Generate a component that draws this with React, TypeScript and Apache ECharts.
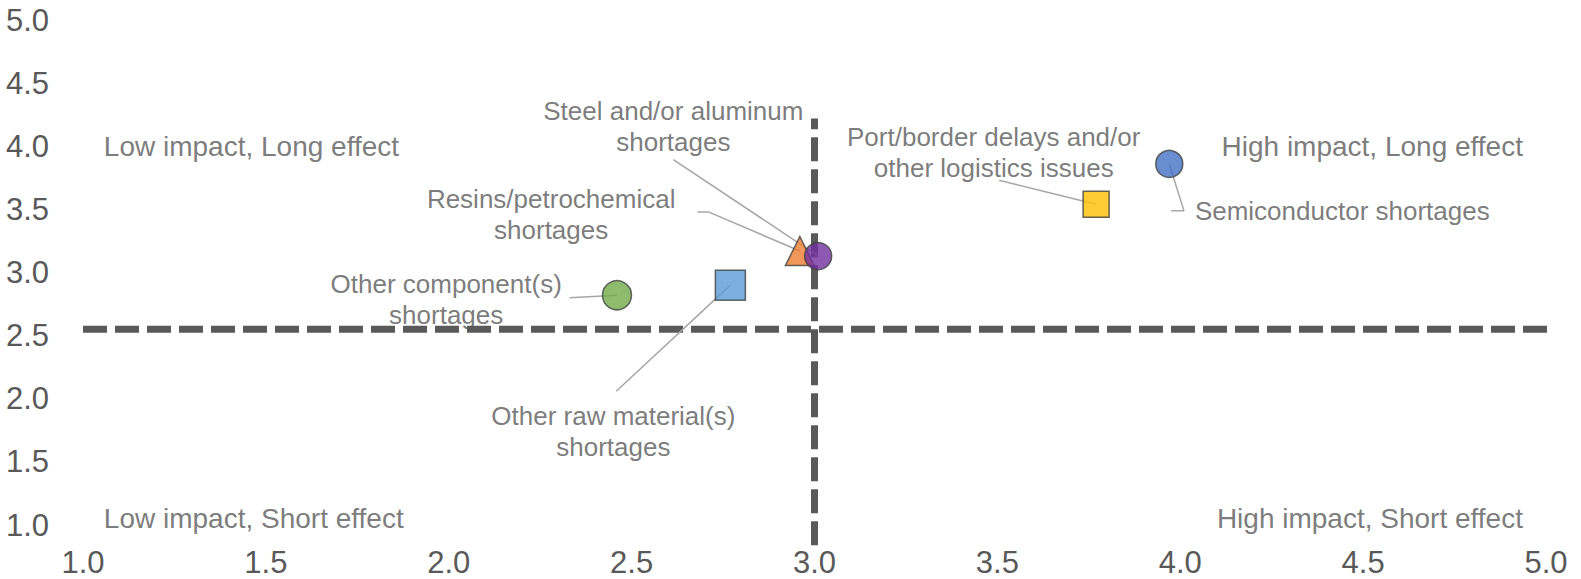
import React, { useEffect, useRef } from "react";
import * as echarts from "echarts";

// ---- data ----
const categories = [
  "Semiconductor shortages",
  "Port/border delays and/or other logistics issues",
  "Resins/petrochemical shortages",
  "Steel and/or aluminum shortages",
  "Other raw material(s) shortages",
  "Other component(s) shortages",
];
const impactValues = [3.97, 3.77, 2.96, 3.01, 2.77, 2.46];
const effectValues = [3.86, 3.54, 3.17, 3.13, 2.9, 2.82];

const thresholdImpact = 3.0;
const thresholdEffect = 2.55;

const axisMin = 1;
const axisMax = 5;
const axisStep = 0.5;

// ---- styling / annotation layout (value space) ----
const markerStyles = [
  { symbol: "circle", size: 27, color: "#4472C4" },
  { symbol: "rect", size: 26, color: "#FFC000" },
  { symbol: "triangle", size: 29, color: "#ED7D31" },
  { symbol: "circle", size: 27, color: "#7030A0" },
  { symbol: "rect", size: 30, color: "#5B9BD5" },
  { symbol: "circle", size: 29, color: "#70AD47" },
];

const labelTexts = [
  "Semiconductor shortages",
  "Port/border delays and/or\nother logistics issues",
  "Resins/petrochemical\nshortages",
  "Steel and/or aluminum\nshortages",
  "Other raw material(s)\nshortages",
  "Other component(s)\nshortages",
];
const labelAnchors = [
  { at: [4.04, 3.49], align: "left" },
  { at: [3.49, 3.95], align: "center" },
  { at: [2.28, 3.46], align: "center" },
  { at: [2.614, 4.16], align: "center" },
  { at: [2.45, 1.74], align: "center" },
  { at: [1.993, 2.79], align: "center" },
];
const leaderStarts = [
  [[3.975, 3.49], [4.01, 3.49]],
  [[3.505, 3.73]],
  [[2.68, 3.48], [2.71, 3.48]],
  [[2.614, 3.894]],
  [[2.458, 2.06]],
  [[2.33, 2.80]],
];

const quadrantTexts = [
  "Low impact, Long effect",
  "High impact, Long effect",
  "Low impact, Short effect",
  "High impact, Short effect",
];
const quadrantAnchors = [
  { at: [1.057, 4.0], align: "left" },
  { at: [4.937, 4.0], align: "right" },
  { at: [1.057, 1.05], align: "left" },
  { at: [4.937, 1.05], align: "right" },
];

const vLineSpan = [0.84, 4.22];
const hLineSpan = [1.0, 5.07];

const FONT = "'Liberation Sans', Arial, Helvetica, sans-serif";
const TEXT = "#595959";

export default function App() {
  const ref = useRef<HTMLDivElement>(null);
  useEffect(() => {
    document.body.style.margin = "0";
    if (!ref.current) return;
    const chart = echarts.init(ref.current, null, { renderer: "svg" });

    const leaderSeries = categories.map((name, i) => ({
      type: "line",
      name: "leader-" + name,
      data: [...leaderStarts[i], [impactValues[i], effectValues[i]]],
      symbol: "none",
      silent: true,
      z: 3,
      lineStyle: { color: "#A6A6A6", width: 1.5 },
    }));

    const option = {
      animation: false,
      textStyle: { fontFamily: FONT },
      grid: { left: 83, right: 35, top: 20, bottom: 54, containLabel: false },
      xAxis: {
        type: "value",
        min: axisMin,
        max: axisMax,
        interval: axisStep,
        axisLine: { show: false },
        axisTick: { show: false },
        splitLine: { show: false },
        axisLabel: {
          color: TEXT,
          fontSize: 31,
          fontFamily: FONT,
          margin: 22,
          formatter: (v: number) => v.toFixed(1),
        },
      },
      yAxis: {
        type: "value",
        min: axisMin,
        max: axisMax,
        interval: axisStep,
        axisLine: { show: false },
        axisTick: { show: false },
        splitLine: { show: false },
        axisLabel: {
          color: TEXT,
          fontSize: 31,
          fontFamily: FONT,
          margin: 34,
          formatter: (v: number) => v.toFixed(1),
        },
      },
      series: [
        {
          type: "line",
          name: "threshold-impact",
          data: [
            [thresholdImpact, vLineSpan[0]],
            [thresholdImpact, vLineSpan[1]],
          ],
          symbol: "none",
          silent: true,
          clip: false,
          z: 1,
          lineStyle: { color: "#595959", width: 7, type: [24, 8] },
        },
        {
          type: "line",
          name: "threshold-effect",
          data: [
            [hLineSpan[0], thresholdEffect],
            [hLineSpan[1], thresholdEffect],
          ],
          symbol: "none",
          silent: true,
          clip: false,
          z: 1,
          lineStyle: { color: "#595959", width: 7, type: [24, 8] },
        },
        ...leaderSeries,
        {
          type: "scatter",
          name: "points",
          z: 5,
          data: categories.map((name, i) => ({
            name,
            value: [impactValues[i], effectValues[i]],
            symbol: markerStyles[i].symbol,
            symbolSize: markerStyles[i].size,
            itemStyle: {
              color: markerStyles[i].color,
              borderColor: "#404040",
              borderWidth: 1.5,
            },
          })),
        },
        {
          type: "scatter",
          name: "labels",
          z: 6,
          silent: true,
          symbol: "circle",
          symbolSize: 1,
          itemStyle: { color: "rgba(0,0,0,0)" },
          data: [
            ...labelTexts.map((t, i) => ({
              name: t,
              value: labelAnchors[i].at,
              label: {
                show: true,
                position: "inside",
                formatter: t,
                align: labelAnchors[i].align,
                verticalAlign: "middle",
                fontSize: 26,
                lineHeight: 31,
                color: TEXT,
                fontFamily: FONT,
              },
            })),
            ...quadrantTexts.map((t, i) => ({
              name: t,
              value: quadrantAnchors[i].at,
              label: {
                show: true,
                position: "inside",
                formatter: t,
                align: quadrantAnchors[i].align,
                verticalAlign: "middle",
                fontSize: 28,
                color: TEXT,
                fontFamily: FONT,
              },
            })),
          ],
        },
      ],
    };
    chart.setOption(option as any);
    return () => chart.dispose();
  }, []);
  return <div ref={ref} style={{ width: 1581, height: 579 }} />;
}
